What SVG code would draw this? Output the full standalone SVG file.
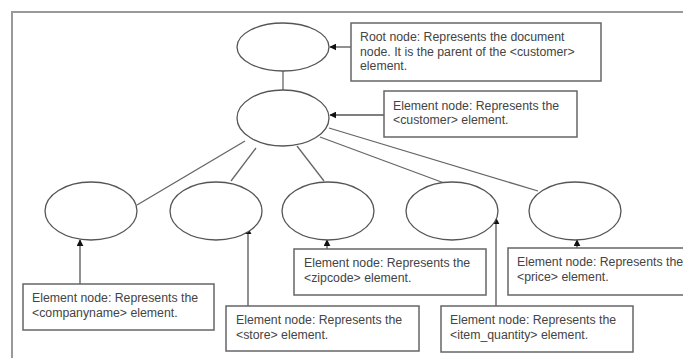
<svg xmlns="http://www.w3.org/2000/svg" width="683" height="358" viewBox="0 0 683 358">
<style>
.node{fill:#fff;stroke:#555;stroke-width:1.3}
.box{fill:#fff;stroke:#666;stroke-width:1.5}
.t{font-family:"Liberation Sans",Arial,sans-serif;font-size:12.3px;fill:#444}
.edge{stroke:#666;stroke-width:1.3;fill:none}
.call{stroke:#555;stroke-width:1.3;fill:none;marker-end:url(#ah)}
</style>
<defs>
<marker id="ah" viewBox="0 0 10 10" refX="9" refY="5" markerWidth="7" markerHeight="7" orient="auto" markerUnits="userSpaceOnUse">
<path d="M0,0 L10,5 L0,10 z" fill="#111"/>
</marker>
</defs>
<rect x="0" y="0" width="683" height="358" fill="#fff"/>
<rect x="12" y="12" width="700" height="370" fill="none" stroke="#999" stroke-width="2"/>
<g id="connectors">
<line class="edge" x1="283" y1="71" x2="283" y2="90"/>
<line class="edge" x1="245" y1="141" x2="137" y2="205"/>
<line class="edge" x1="256" y1="148" x2="231" y2="181"/>
<line class="edge" x1="297" y1="146" x2="324" y2="181"/>
<line class="edge" x1="320" y1="137" x2="490" y2="200"/>
<line class="edge" x1="329" y1="128" x2="538" y2="191"/>
<line class="call" x1="351" y1="47" x2="330" y2="47"/>
<line class="call" x1="384" y1="115" x2="330" y2="115"/>
<line class="call" x1="80" y1="284" x2="80" y2="240"/>
<line class="call" x1="248" y1="306" x2="248" y2="228"/>
<line class="call" x1="327" y1="249" x2="327" y2="240"/>
<line class="call" x1="496" y1="306" x2="496" y2="218"/>
<line class="call" x1="577" y1="248" x2="577" y2="240"/>
</g>
<g id="root"><ellipse class="node" cx="283" cy="47" rx="46" ry="24"/></g>
<g id="customer"><ellipse class="node" cx="283" cy="118" rx="46" ry="28"/></g>
<g id="companyname"><ellipse class="node" cx="91" cy="211" rx="46" ry="29"/></g>
<g id="store"><ellipse class="node" cx="216" cy="211" rx="46" ry="29"/></g>
<g id="zipcode"><ellipse class="node" cx="328" cy="211" rx="46" ry="29"/></g>
<g id="item_quantity"><ellipse class="node" cx="452" cy="211" rx="46" ry="29"/></g>
<g id="price"><ellipse class="node" cx="575" cy="211" rx="46" ry="29"/></g>
<g id="root-note">
<rect class="box" x="351" y="23" width="250" height="58"/>
<text class="t" x="360" y="41">Root node: Represents the document</text>
<text class="t" x="360" y="56">node. It is the parent of the &lt;customer&gt;</text>
<text class="t" x="360" y="70">element.</text>
</g>
<g id="customer-note">
<rect class="box" x="384" y="91" width="193" height="46"/>
<text class="t" x="393" y="110">Element node: Represents the</text>
<text class="t" x="393" y="124">&lt;customer&gt; element.</text>
</g>
<g id="companyname-note">
<rect class="box" x="23" y="284" width="191" height="46"/>
<text class="t" x="32" y="302">Element node: Represents the</text>
<text class="t" x="32" y="317">&lt;companyname&gt; element.</text>
</g>
<g id="store-note">
<rect class="box" x="226" y="306" width="193" height="45"/>
<text class="t" x="236" y="324">Element node: Represents the</text>
<text class="t" x="236" y="339">&lt;store&gt; element.</text>
</g>
<g id="zipcode-note">
<rect class="box" x="294" y="249" width="192" height="46"/>
<text class="t" x="304" y="267">Element node: Represents the</text>
<text class="t" x="304" y="282">&lt;zipcode&gt; element.</text>
</g>
<g id="item_quantity-note">
<rect class="box" x="441" y="306" width="192" height="46"/>
<text class="t" x="450" y="324">Element node: Represents the</text>
<text class="t" x="450" y="339">&lt;item_quantity&gt; element.</text>
</g>
<g id="price-note">
<rect class="box" x="508" y="248" width="200" height="47"/>
<text class="t" x="517" y="266">Element node: Represents the</text>
<text class="t" x="517" y="281">&lt;price&gt; element.</text>
</g>
</svg>
